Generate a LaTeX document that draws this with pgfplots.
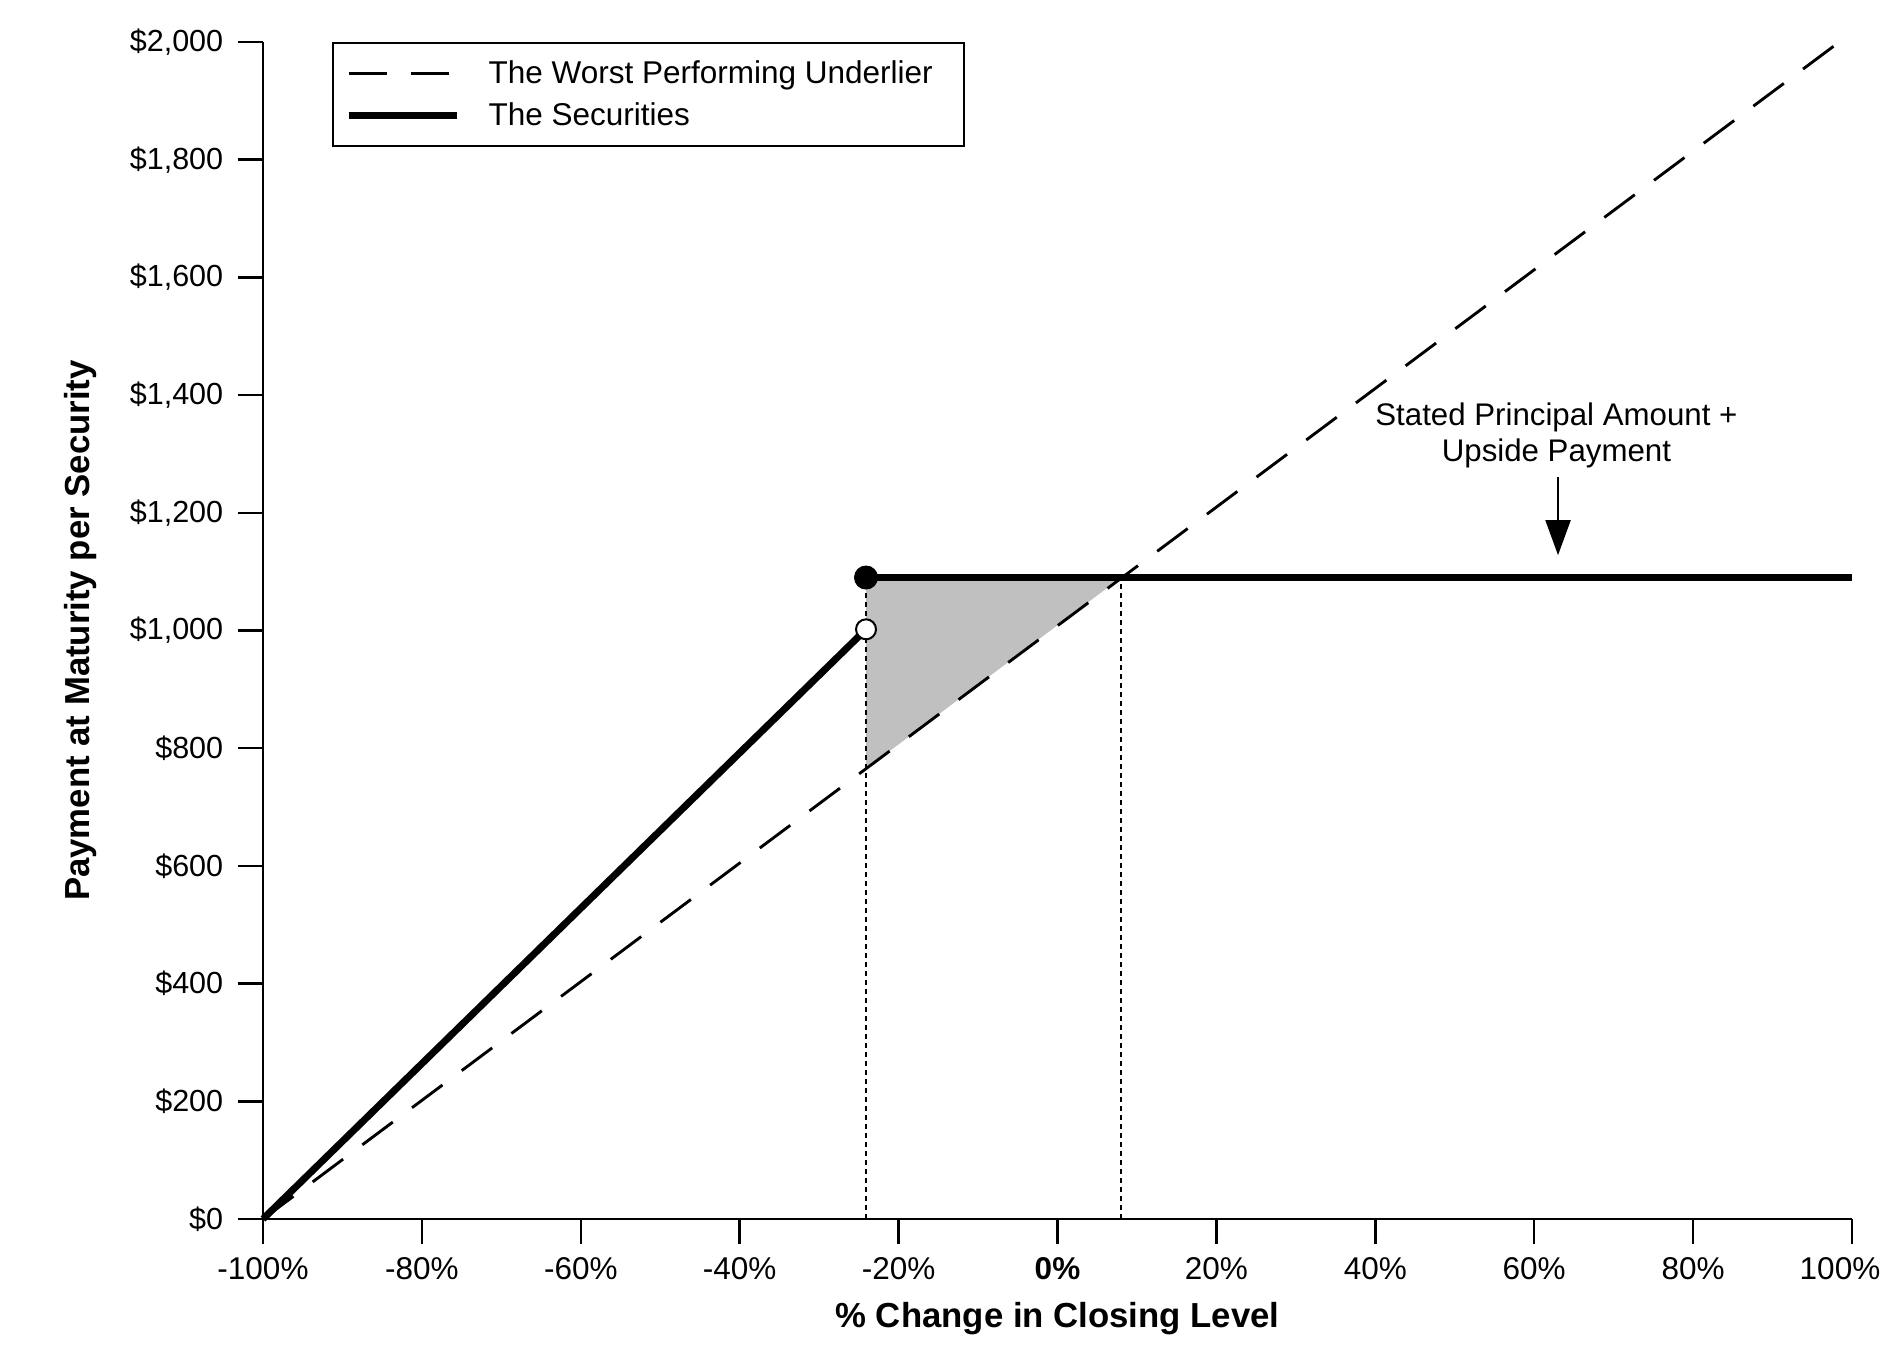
\documentclass[border=0pt]{standalone}
\usepackage{fontspec}
\setmainfont{Liberation Sans}
\usepackage{pgfplots}
\pgfplotsset{compat=1.18}
\usetikzlibrary{arrows.meta}
\definecolor{shade}{RGB}{192,192,192}
\begin{document}
\begin{tikzpicture}
\begin{axis}[
  scale only axis, width=635.6pt, height=470.8pt,
  xmin=-100, xmax=100, ymin=0, ymax=2000,
  clip=false,
  axis x line*=bottom, axis y line*=left,
  axis line style={line width=1pt, black},
  tick align=outside, major tick length=10pt,
  tick style={line width=1pt, black},
  xtick={-100,-80,-60,-40,-20,0,20,40,60,80,100},
  xticklabels={-100\%,-80\%,-60\%,-40\%,-20\%,\textbf{0\%},20\%,40\%,60\%,80\%,100\%\hspace*{9.6pt}},
  ytick={0,200,400,600,800,1000,1200,1400,1600,1800,2000},
  yticklabels={\$0,\$200,\$400,\$600,\$800,{\$1,000},{\$1,200},{\$1,400},{\$1,600},{\$1,800},{\$2,000}},
  xticklabel style={font=\fontsize{12.6}{15}\selectfont, yshift=-2pt},
  yticklabel style={font=\fontsize{12.2}{14}\selectfont, xshift=-2.4pt},
  xlabel={\% Change in Closing Level},
  ylabel={Payment at Maturity per Security},
  label style={font=\fontsize{13.9}{16}\selectfont\bfseries},
  xlabel style={at={(axis description cs:0.5,-0.09176)}, anchor=base},
  ylabel style={at={(axis description cs:-0.1089,0.5)}, anchor=base},
  legend style={at={(rel axis cs:0.0434,1)}, anchor=north west, draw=black, line width=0.8pt, fill=white,
    font=\fontsize{12.6}{15}\selectfont, inner xsep=4.9pt, inner ysep=5pt, row sep=2.1pt, column sep=9.2pt},
  legend cell align=left,
  legend image code/.code={\draw[#1] (0pt,0pt) -- (43.4pt,0pt);},
]
\addplot[draw=none, fill=shade, forget plot] coordinates {(-24.1,1090) (8.0,1090) (-24.1,765)} -- cycle;
\addplot[black, line width=0.8pt, dash pattern=on 2pt off 1.6pt, forget plot] coordinates {(-24.1,0) (-24.1,1090)};
\addplot[black, line width=0.8pt, dash pattern=on 2pt off 1.6pt, forget plot] coordinates {(8.0,0) (8.0,1090)};
\addplot[black, line width=1.15pt, dash pattern=on 15.2pt off 9.6pt] coordinates {(-100,0) (98.4,2000)};
\addlegendentry{The Worst Performing Underlier\hspace*{5.5pt}}
\addplot[black, line width=2.8pt] coordinates {(-100,0) (-24.1,1002)};
\addlegendentry{The Securities}
\addplot[black, line width=2.8pt, forget plot] coordinates {(-24.1,1090) (100,1090)};
\addplot[only marks, mark=*, mark size=4.6pt, black, forget plot] coordinates {(-24.1,1090)};
\addplot[only marks, mark=*, mark size=4pt, mark options={fill=white, draw=black, line width=0.8pt}, forget plot] coordinates {(-24.1,1002)};
\addplot[black, line width=0.8pt, -{Triangle[width=10pt,length=14pt]}, forget plot] coordinates {(63,1261) (63,1128)};
\node[align=center, font=\fontsize{12.5}{14.4}\selectfont] at (axis cs:62.8,1332) {Stated Principal Amount +\\Upside Payment};
\end{axis}
\pgfresetboundingbox
\path[use as bounding box] (-105.2pt,-55.6pt) rectangle (649.6pt,487.6pt);
\end{tikzpicture}
\end{document}
